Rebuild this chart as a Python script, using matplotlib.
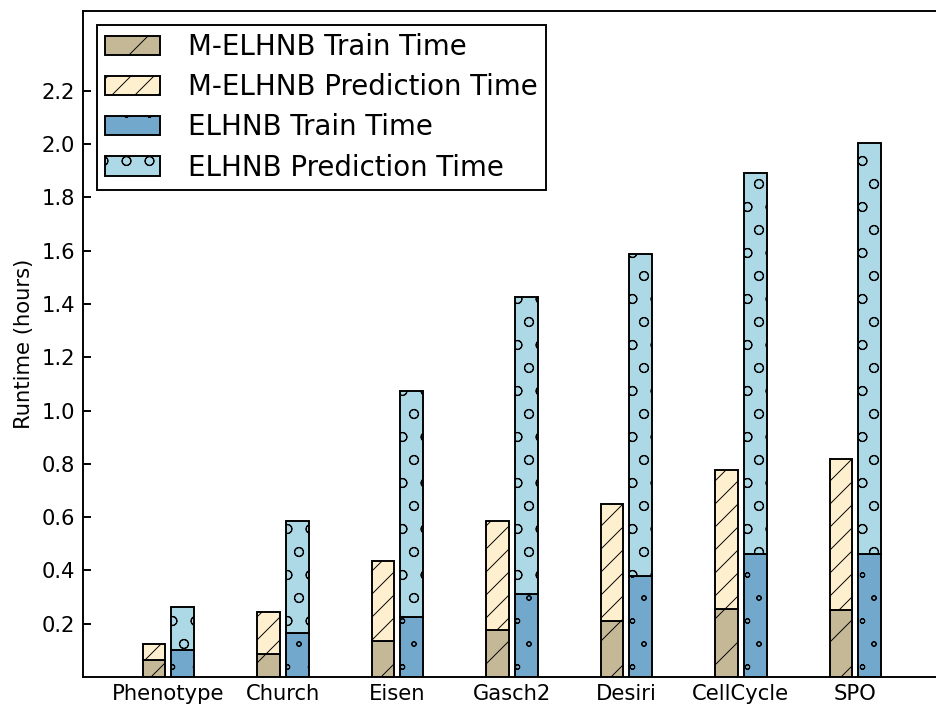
import matplotlib as mpl
mpl.use('agg')
import matplotlib.pyplot as plt
import matplotlib.hatch
import numpy as np

## data (hours); totals are the top of each stack
datasets = ['Phenotype', 'Church', 'Eisen', 'Gasch2', 'Desiri', 'CellCycle', 'SPO']
m_train = [0.065, 0.088, 0.137, 0.176, 0.212, 0.254, 0.250]
m_total = [0.124, 0.244, 0.436, 0.586, 0.649, 0.776, 0.817]
e_train = [0.103, 0.165, 0.227, 0.310, 0.380, 0.461, 0.461]
e_total = [0.261, 0.587, 1.074, 1.428, 1.586, 1.892, 2.004]
yticks = [0.2, 0.4, 0.6, 0.8, 1.0, 1.2, 1.4, 1.6, 1.8, 2.0, 2.2]

m_pred = np.array(m_total) - np.array(m_train)
e_pred = np.array(e_total) - np.array(e_train)

DPI = 138
mpl.rcParams['hatch.linewidth'] = 0.5
mpl.rcParams['hatch.color'] = 'black'
mpl.rcParams['font.family'] = 'DejaVu Sans'

# older matplotlib drew smaller hatch circles
matplotlib.hatch.SmallCircles.size = 0.1
matplotlib.hatch.LargeCircles.size = 0.2


def main():
    fig = plt.figure(figsize=(936 / DPI, 707 / DPI), dpi=DPI)
    ax = fig.add_axes([83 / 936, 30 / 707, 853 / 936, 666 / 707])

    x = np.arange(len(datasets))
    width = 0.2
    style = dict(width=width, align='edge', edgecolor='black', linewidth=1.0)

    ax.bar(x, m_train, color='#C4B897', hatch='/', label='M-ELHNB Train Time', **style)
    ax.bar(x, m_pred, bottom=m_train, color='#FEEFCE', hatch='//',
           label='M-ELHNB Prediction Time', **style)
    ax.bar(x + 0.25, e_train, color='#71A8CB', hatch='o', label='ELHNB Train Time', **style)
    ax.bar(x + 0.25, e_pred, bottom=e_train, color='#ADD8E6', hatch='O',
           label='ELHNB Prediction Time', **style)

    ax.set_xlim(-0.52, 6.93)
    ax.set_ylim(0, 2.5)
    ax.set_xticks(x + 0.225)
    ax.set_xticklabels(datasets, fontsize=11)
    ax.set_yticks(yticks)
    ax.set_yticklabels(['%.1f' % t for t in yticks], fontsize=11)
    ax.tick_params(axis='y', direction='in', length=4, width=1, pad=4)
    ax.tick_params(axis='x', length=0, pad=3.5)
    ax.spines['right'].set_visible(False)
    for s in ['left', 'top', 'bottom']:
        ax.spines[s].set_linewidth(1.0)
    ax.set_ylabel('Runtime (hours)', fontsize=11, labelpad=4)

    leg = ax.legend(loc='upper left', fontsize=14.4, fancybox=False, framealpha=1,
                    edgecolor='black', borderaxespad=0.5, handlelength=2.0,
                    handleheight=0.7, labelspacing=0.44, handletextpad=1.0,
                    borderpad=0.3)
    leg.get_frame().set_linewidth(1.0)

    fig.savefig('out.png', dpi=DPI)


if __name__ == "__main__":
    main()
